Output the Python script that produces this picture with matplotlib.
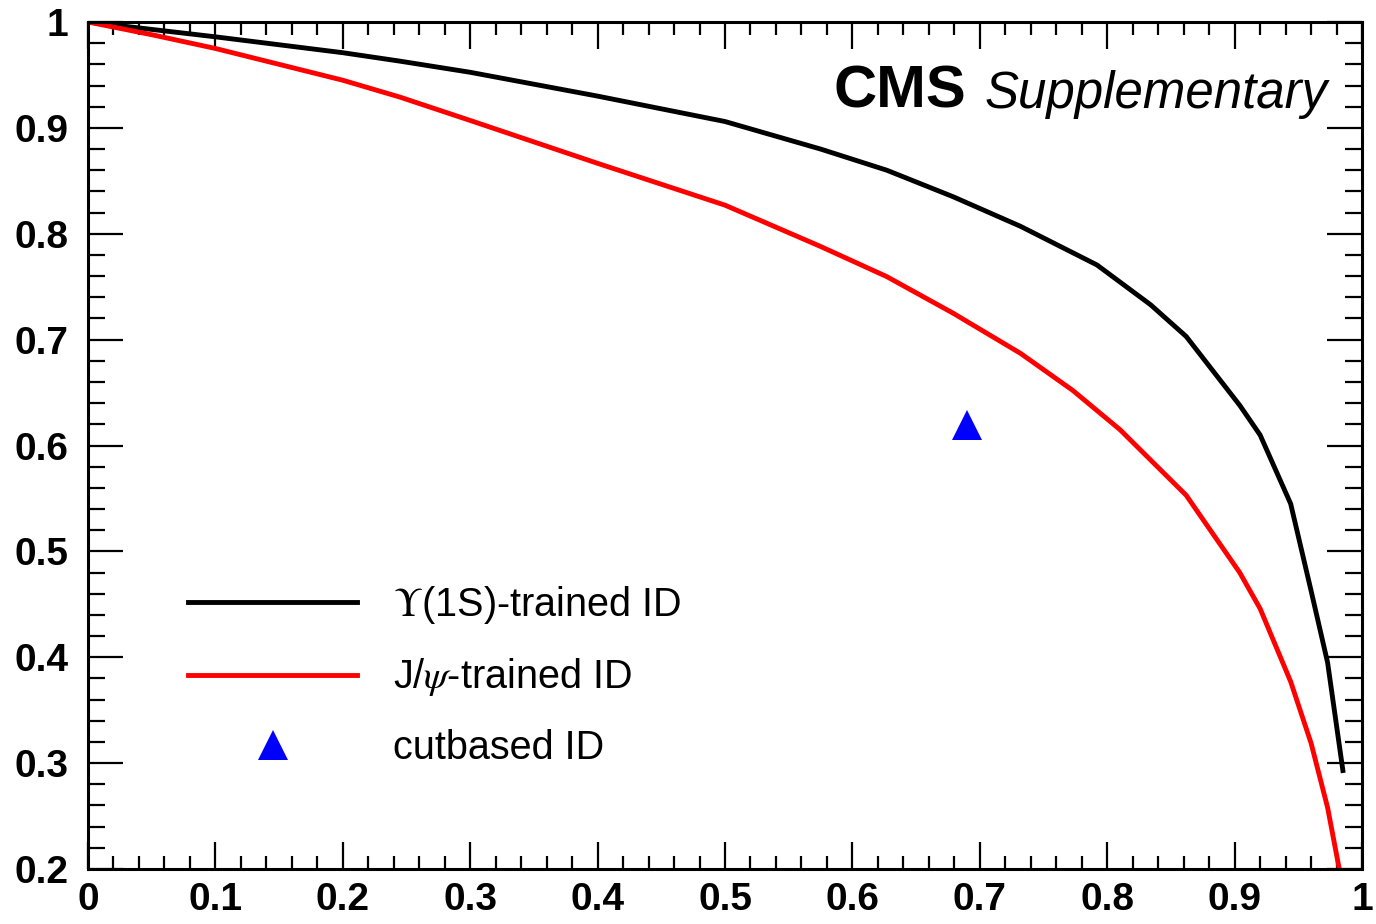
import matplotlib
matplotlib.use("Agg")
import matplotlib.pyplot as plt
from matplotlib.ticker import MultipleLocator, FixedLocator

plt.rcParams['font.family'] = ['Liberation Sans', 'DejaVu Sans']
plt.rcParams['mathtext.fontset'] = 'stix'

# Upsilon(1S)-trained ID (black)
ups_x = [0.0, 0.05, 0.1, 0.2, 0.245, 0.3, 0.4, 0.5, 0.575, 0.627, 0.679, 0.732,
         0.792, 0.834, 0.862, 0.904, 0.920, 0.944, 0.960, 0.973, 0.985]
ups_y = [1.0, 0.993, 0.986, 0.971, 0.963, 0.9525, 0.930, 0.906, 0.880, 0.860, 0.835, 0.807,
         0.7705, 0.733, 0.703, 0.638, 0.610, 0.545, 0.463, 0.395, 0.293]

# J/psi-trained ID (red)
jpsi_x = [0.0, 0.05, 0.1, 0.2, 0.245, 0.3, 0.4, 0.5, 0.575, 0.627, 0.679, 0.732,
          0.773, 0.810, 0.862, 0.904, 0.920, 0.944, 0.960, 0.973, 0.982]
jpsi_y = [1.0, 0.988, 0.975, 0.945, 0.929, 0.907, 0.8665, 0.827, 0.788, 0.7595, 0.725, 0.687,
          0.652, 0.615, 0.553, 0.480, 0.446, 0.377, 0.319, 0.258, 0.201]

# cut-based ID working point
cut_x = [0.690]
cut_y = [0.619]

labels = [r'$\Upsilon$(1S)-trained ID', r'J/$\psi$-trained ID', 'cutbased ID']
x_ticks = [0, 0.1, 0.2, 0.3, 0.4, 0.5, 0.6, 0.7, 0.8, 0.9, 1.0]
x_ticklabels = ['0', '0.1', '0.2', '0.3', '0.4', '0.5', '0.6', '0.7', '0.8', '0.9', '1']
y_ticks = [0.2, 0.3, 0.4, 0.5, 0.6, 0.7, 0.8, 0.9, 1.0]
y_ticklabels = ['0.2', '0.3', '0.4', '0.5', '0.6', '0.7', '0.8', '0.9', '1']

fig = plt.figure(figsize=(13.76, 9.24), dpi=100)
ax = fig.add_axes([88/1376, 55/924, 1274/1376, 847/924])

l1, = ax.plot(ups_x, ups_y, color='black', lw=3.5, label=labels[0])
l2, = ax.plot(jpsi_x, jpsi_y, color='#ff0000', lw=3.5, label=labels[1])
l3, = ax.plot(cut_x, cut_y, linestyle='none', marker='^', color='#0000ff',
              markersize=21.5, markeredgewidth=0, label=labels[2])

ax.set_xlim(0, 1)
ax.set_ylim(0.2, 1)

ax.xaxis.set_major_locator(FixedLocator(x_ticks))
ax.yaxis.set_major_locator(FixedLocator(y_ticks))
ax.set_xticklabels(x_ticklabels)
ax.set_yticklabels(y_ticklabels)
ax.xaxis.set_minor_locator(MultipleLocator(0.02))
ax.yaxis.set_minor_locator(MultipleLocator(0.02))

for s in ax.spines.values():
    s.set_linewidth(2.2)

ax.tick_params(axis='both', which='both', direction='in', top=True, right=True, width=1.6)
ax.tick_params(axis='x', which='major', length=19.5, pad=9)
ax.tick_params(axis='x', which='minor', length=9.5)
ax.tick_params(axis='y', which='major', length=25, pad=14)
ax.tick_params(axis='y', which='minor', length=12.5)
for lab in ax.get_xticklabels() + ax.get_yticklabels():
    lab.set_fontsize(28)
    lab.set_fontweight('bold')

ax.text(0.5848, 0.8985, 'CMS', transform=ax.transAxes, fontsize=43,
        fontweight='bold', ha='left', va='baseline')
ax.text(0.9733, 0.8985, 'Supplementary', transform=ax.transAxes, fontsize=36.7,
        fontstyle='italic', ha='right', va='baseline')

ax.legend(handles=[l1, l2, l3], loc='upper left', bbox_to_anchor=(0.0785, 0.337),
          frameon=False, fontsize=28.5, handlelength=4.27, handletextpad=0.9,
          labelspacing=0.78, borderpad=0, borderaxespad=0, numpoints=1)

fig.savefig('out.png', dpi=100)
